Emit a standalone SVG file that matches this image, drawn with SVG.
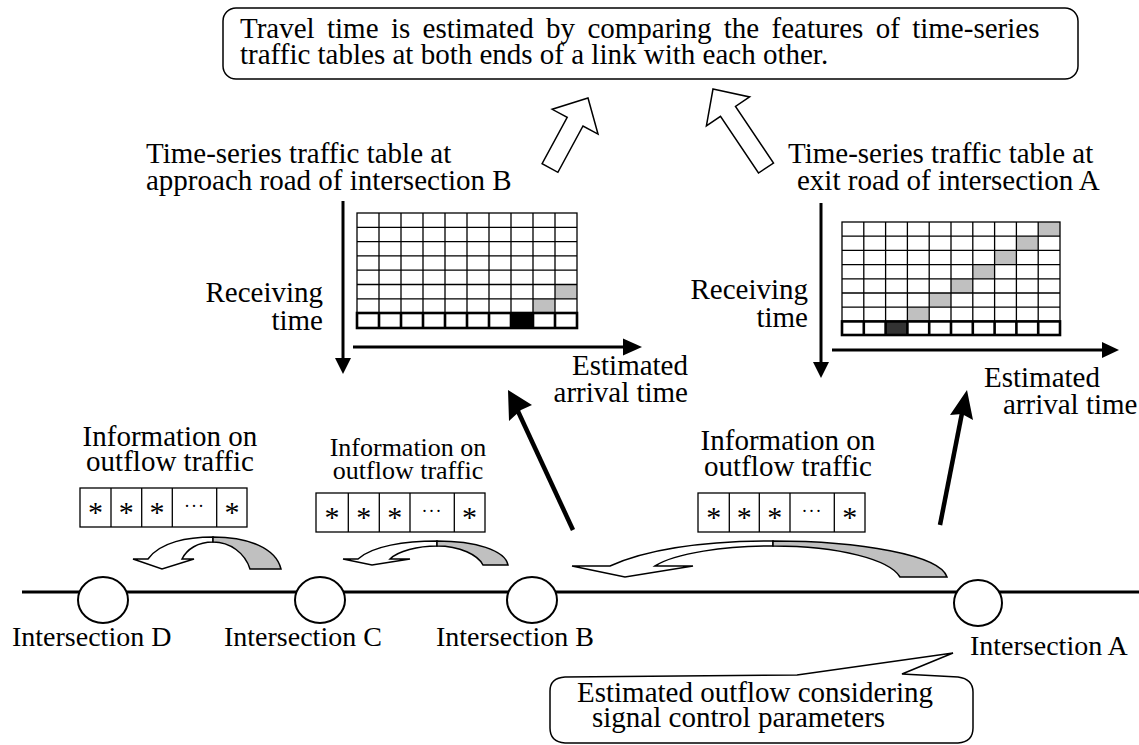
<svg xmlns="http://www.w3.org/2000/svg" width="1139" height="745" viewBox="0 0 1139 745">
<style>
.t{font-family:"Liberation Serif","Times New Roman",serif;font-size:29px;fill:#000}
.lab{font-size:28px}
.sm{font-size:26px}
.ast{font-family:"Liberation Serif","Times New Roman",serif;font-size:30px;fill:#000;text-anchor:middle}
.dots{font-family:"Liberation Serif","Times New Roman",serif;font-size:18px;fill:#000;text-anchor:middle;letter-spacing:1px}
.box{fill:#fff;stroke:#000;stroke-width:1.5}
.grid{fill:none;stroke:#000;stroke-width:1.3}
.bold{fill:none;stroke:#000;stroke-width:2.6}
.ln{fill:none;stroke:#000;stroke-width:3}
.hd{fill:#000;stroke:none}
.hollow{fill:#fff;stroke:#000;stroke-width:1.5;stroke-linejoin:miter}
.gray{fill:#c0c0c0;stroke:#000;stroke-width:1.5}
.node{fill:#fff;stroke:#000;stroke-width:2}
</style>

<g id="summary">
<rect x="223" y="8" width="855" height="71" rx="13" class="box"/>
<text class="t" x="240" y="38" word-spacing="5.1">Travel time is estimated by comparing the features of time-series</text>
<text class="t" x="240" y="64">traffic tables at both ends of a link with each other.</text>
</g>

<g id="table-B">
<text class="t" x="146" y="163">Time-series traffic table at</text>
<text class="t" x="146" y="190">approach road of intersection B</text>
<rect x="555" y="284.5" width="22" height="14.3" fill="#c0c0c0"/>
<rect x="533" y="298.8" width="22" height="14.2" fill="#c0c0c0"/>
<rect x="511" y="313" width="22" height="15" fill="#000"/>
<rect x="357" y="213" width="220" height="100" class="grid"/>
<path class="grid" d="M357 227.3H577M357 241.6H577M357 255.9H577M357 270.2H577M357 284.5H577M357 298.8H577M379 213V313M401 213V313M423 213V313M445 213V313M467 213V313M489 213V313M511 213V313M533 213V313M555 213V313"/>
<rect x="357" y="313" width="220" height="15" class="bold"/>
<path class="bold" d="M379 313V328M401 313V328M423 313V328M445 313V328M467 313V328M489 313V328M511 313V328M533 313V328M555 313V328"/>
<text class="t" x="323" y="302" text-anchor="end">Receiving</text>
<text class="t" x="323" y="330" text-anchor="end">time</text>
<text class="t" x="688" y="375" text-anchor="end">Estimated</text>
<text class="t" x="688" y="402" text-anchor="end">arrival time</text>
</g>

<g id="table-A">
<text class="t" x="788" y="163">Time-series traffic table at</text>
<text class="t" x="797" y="190">exit road of intersection A</text>
<rect x="1038.2" y="222" width="21.8" height="14.2" fill="#c0c0c0"/>
<rect x="1016.4" y="236.2" width="21.8" height="14.2" fill="#c0c0c0"/>
<rect x="994.6" y="250.4" width="21.8" height="14.2" fill="#c0c0c0"/>
<rect x="972.8" y="264.6" width="21.8" height="14.2" fill="#c0c0c0"/>
<rect x="951" y="278.8" width="21.8" height="14.2" fill="#c0c0c0"/>
<rect x="929.2" y="293" width="21.8" height="14.2" fill="#c0c0c0"/>
<rect x="907.4" y="307.2" width="21.8" height="14.2" fill="#c0c0c0"/>
<rect x="885.6" y="321.4" width="21.8" height="13.6" fill="#333"/>
<rect x="842" y="222" width="218" height="99.4" class="grid"/>
<path class="grid" d="M842 236.2H1060M842 250.4H1060M842 264.6H1060M842 278.8H1060M842 293H1060M842 307.2H1060M863.8 222V321.4M885.6 222V321.4M907.4 222V321.4M929.2 222V321.4M951 222V321.4M972.8 222V321.4M994.6 222V321.4M1016.4 222V321.4M1038.2 222V321.4"/>
<rect x="842" y="321.4" width="218" height="13.6" class="bold"/>
<path class="bold" d="M863.8 321.4V335M885.6 321.4V335M907.4 321.4V335M929.2 321.4V335M951 321.4V335M972.8 321.4V335M994.6 321.4V335M1016.4 321.4V335M1038.2 321.4V335"/>
<text class="t" x="808" y="299" text-anchor="end">Receiving</text>
<text class="t" x="808" y="327" text-anchor="end">time</text>
<text class="t" x="984" y="387">Estimated</text>
<text class="t" x="1003" y="414">arrival time</text>
</g>

<g id="info-D">
<text class="t" x="170" y="446" text-anchor="middle">Information on</text>
<text class="t" x="170" y="471" text-anchor="middle">outflow traffic</text>
<rect x="80" y="488" width="167" height="39" class="grid"/>
<path class="grid" d="M111 488V527M141.7 488V527M172.3 488V527M216.7 488V527"/>
<text class="ast" x="95.5" y="522">*</text>
<text class="ast" x="126.3" y="522">*</text>
<text class="ast" x="157" y="522">*</text>
<text class="dots" x="194.5" y="512">···</text>
<text class="ast" x="232" y="522">*</text>
</g>

<g id="info-C">
<text class="t sm" x="408" y="456" text-anchor="middle">Information on</text>
<text class="t sm" x="408" y="479" text-anchor="middle">outflow traffic</text>
<rect x="316" y="493" width="169" height="39" class="grid"/>
<path class="grid" d="M348.3 493V532M379.3 493V532M410 493V532M454.3 493V532"/>
<text class="ast" x="332" y="527">*</text>
<text class="ast" x="363.8" y="527">*</text>
<text class="ast" x="394.7" y="527">*</text>
<text class="dots" x="432" y="517">···</text>
<text class="ast" x="469.5" y="527">*</text>
</g>

<g id="info-B">
<text class="t" x="788" y="450" text-anchor="middle">Information on</text>
<text class="t" x="788" y="476" text-anchor="middle">outflow traffic</text>
<rect x="698" y="493" width="167" height="39" class="grid"/>
<path class="grid" d="M729.3 493V532M759.3 493V532M790 493V532M834.3 493V532"/>
<text class="ast" x="713.7" y="527">*</text>
<text class="ast" x="744.3" y="527">*</text>
<text class="ast" x="774.7" y="527">*</text>
<text class="dots" x="812" y="517">···</text>
<text class="ast" x="849.7" y="527">*</text>
</g>

<g id="connectors">
<path class="hollow" d="M588 98L598 134.1L583 126L557.9 172.3L542.1 163.7L567.2 117.4L552.2 109.3Z"/>
<path class="hollow" d="M713 89L749.6 96.9L735.5 106.4L773.5 163L758.5 173L720.5 116.4L706.4 125.9Z"/>
<path class="ln" d="M343 201V359"/>
<path class="hd" d="M335 358H351L343 374Z"/>
<path class="ln" d="M353 347H624"/>
<path class="hd" d="M623 338.5V355.5L642 347Z"/>
<path class="ln" d="M821 203V363"/>
<path class="hd" d="M813 362H829L821 378Z"/>
<path class="ln" d="M832 350H1103"/>
<path class="hd" d="M1102 342V358L1119 350Z"/>
<path fill="none" stroke="#000" stroke-width="4.5" d="M573 530L516 407"/>
<path class="hd" d="M508 390L532 405L521 410L509 421Z"/>
<path fill="none" stroke="#000" stroke-width="4.5" d="M940 525L963 408"/>
<path class="hd" d="M967 390L973 420L962 414L950 415Z"/>
<path class="hollow" d="M133 559L148 559C160 542 188 537 213 537L213 542C198 542 187 549 182 559L194 559L162 569Z"/>
<path class="gray" d="M213 537C248 537 276 548 281 569L250 569C245 553 230 542 213 542Z"/>
<path class="hollow" d="M343 559L358 559C372 546 405 541 437 541L437 546C418 546 398 551 390 559L410 559L372 565Z"/>
<path class="gray" d="M437 541C475 541 505 550 508 565L483 565C478 555 460 546 437 546Z"/>
<path class="hollow" d="M572 566L610 566C650 548 710 541 773 541L773 546C725 546 675 553 655 566L693 566L625 577Z"/>
<path class="gray" d="M773 541C860 541 940 555 947 577L900 577C890 560 840 546 773 546Z"/>
<path class="ln" d="M22 592H1139"/>
</g>

<g id="intersection-D">
<ellipse cx="103" cy="600" rx="25" ry="23" class="node"/>
<text class="t lab" x="12" y="646">Intersection D</text>
</g>
<g id="intersection-C">
<ellipse cx="320" cy="600" rx="25" ry="23" class="node"/>
<text class="t lab" x="224" y="646">Intersection C</text>
</g>
<g id="intersection-B">
<ellipse cx="532" cy="600" rx="25" ry="23" class="node"/>
<text class="t lab" x="436" y="646">Intersection B</text>
</g>
<g id="intersection-A">
<ellipse cx="978" cy="603" rx="24" ry="23" class="node"/>
<text class="t lab" x="970" y="655">Intersection A</text>
</g>

<g id="callout">
<path class="box" d="M565 677L797 675L953 653L902 674L958 677Q973 679 973 692L973 728Q973 742 958 743L565 743Q550 742 550 728L550 691Q550 678 565 677Z"/>
<text class="t" x="577" y="702">Estimated outflow considering</text>
<text class="t" x="592" y="727">signal control parameters</text>
</g>
</svg>
